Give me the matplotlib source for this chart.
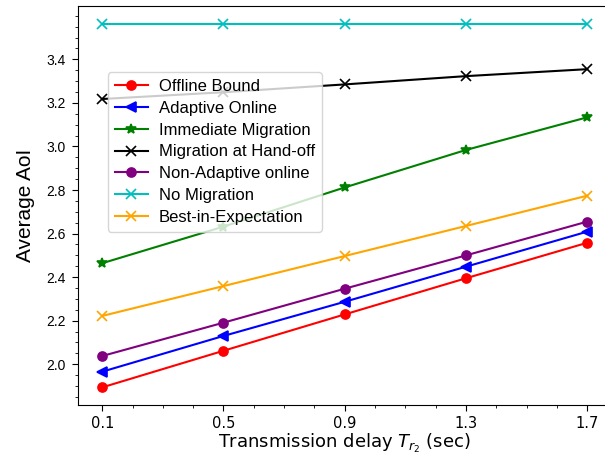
import numpy as np
import matplotlib
matplotlib.use("Agg")
import matplotlib.pyplot as plt
from matplotlib.ticker import MultipleLocator

delays = [0.1, 0.5, 0.9, 1.3, 1.7]

offline_bound = [1.894, 2.062, 2.229, 2.395, 2.558]
adaptive_online = [1.966, 2.130, 2.287, 2.448, 2.609]
immediate_migration = [2.464, 2.632, 2.812, 2.984, 3.134]
migration_handoff = [3.218, 3.249, 3.285, 3.323, 3.355]
non_adaptive_online = [2.038, 2.191, 2.347, 2.500, 2.655]
no_migration = [3.562, 3.562, 3.562, 3.562, 3.562]
best_in_expectation = [2.222, 2.359, 2.497, 2.635, 2.774]

y_ticks = [2.0, 2.2, 2.4, 2.6, 2.8, 3.0, 3.2, 3.4]
x_ticks = [0.1, 0.5, 0.9, 1.3, 1.7]

fig = plt.figure(figsize=(6.05, 4.55), dpi=100)
ax = fig.add_axes([0.1289, 0.1099, 0.8818, 0.8769])

series = [
    ("Offline Bound", offline_bound, "red", "o"),
    ("Adaptive Online", adaptive_online, "blue", "<"),
    ("Immediate Migration", immediate_migration, "green", "*"),
    ("Migration at Hand-off", migration_handoff, "black", "x"),
    ("Non-Adaptive online", non_adaptive_online, "purple", "o"),
    ("No Migration", no_migration, "c", "x"),
    ("Best-in-Expectation", best_in_expectation, "orange", "x"),
]

for label, vals, color, marker in series:
    ax.plot(delays, vals, color=color, marker=marker, lw=1.5,
            markersize=6.5 if marker != "*" else 7, mew=1.2, label=label)

ax.set_xlim(0.02, 1.78)
ax.set_ylim(1.813, 3.645)
ax.set_xticks(x_ticks)
ax.set_xticklabels([f"{v:.1f}" for v in x_ticks], family="DejaVu Sans", fontsize=10.5)
ax.set_yticks(y_ticks)
ax.set_yticklabels([f"{v:.1f}" for v in y_ticks], family="Liberation Sans", fontsize=10)
ax.xaxis.set_minor_locator(MultipleLocator(0.1))
ax.yaxis.set_minor_locator(MultipleLocator(0.05))
ax.tick_params(which="major", direction="out", length=4, width=0.8)
ax.tick_params(which="minor", direction="out", length=2, width=0.6)
ax.tick_params(axis="x", pad=4)
ax.tick_params(axis="y", pad=5)

ax.set_xlabel(r"Transmission delay $T_{r_2}$ (sec)", family="DejaVu Sans",
              fontsize=13, labelpad=0.5)
ax.set_ylabel("Average AoI", family="Liberation Sans", fontsize=15, labelpad=8)

ax.legend(loc="upper left", bbox_to_anchor=(0.0406, 0.855),
          prop={"family": "Liberation Sans", "size": 12},
          labelspacing=0.41, handlelength=2.0, handletextpad=0.65,
          borderpad=0.4)

fig.savefig("out.png", dpi=100)
